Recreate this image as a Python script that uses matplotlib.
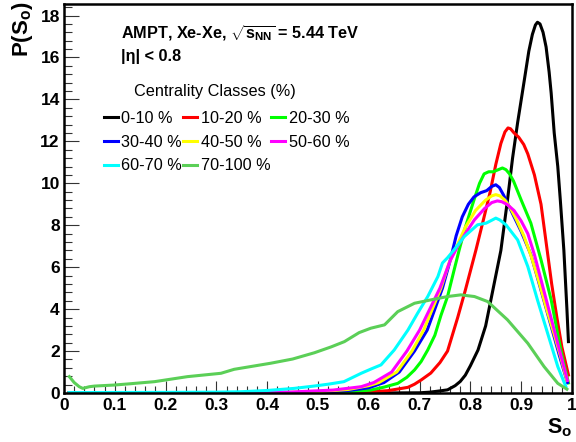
import matplotlib
matplotlib.use("Agg")
import matplotlib.pyplot as plt
from matplotlib.ticker import MultipleLocator, FormatStrFormatter

plt.rcParams['font.family'] = ['Liberation Sans', 'DejaVu Sans']
plt.rcParams['mathtext.fontset'] = 'custom'
plt.rcParams['mathtext.rm'] = 'Liberation Sans:bold'
plt.rcParams['mathtext.it'] = 'Liberation Sans:bold'
plt.rcParams['mathtext.bf'] = 'Liberation Sans:bold'
plt.rcParams['mathtext.sf'] = 'Liberation Sans:bold'

# ---------------- data ----------------
labels = ["0-10 %", "10-20 %", "20-30 %", "30-40 %", "40-50 %", "50-60 %", "60-70 %", "70-100 %"]
colors = ["#000000", "#ff0000", "#00ff00", "#0000ff", "#ffff00", "#ff00ff", "#00ffff", "#5bcf57"]

s_0_10 = [0.01, 0.60, 0.70, 0.72, 0.74, 0.755, 0.77, 0.78, 0.79, 0.80, 0.815, 0.83, 0.84, 0.85, 0.86, 0.873,
          0.883, 0.893, 0.906, 0.915, 0.922, 0.928, 0.932, 0.937, 0.943, 0.949, 0.955, 0.959, 0.965, 0.972,
          0.977, 0.984, 0.99, 0.993]
p_0_10 = [0.0, 0.0, 0.01, 0.04, 0.10, 0.15, 0.35, 0.55, 0.85, 1.3, 2.05, 3.2, 4.4, 5.6, 6.8, 9.2,
          11.2, 12.9, 14.9, 16.3, 17.1, 17.55, 17.68, 17.6, 17.2, 16.5, 15.3, 14.3, 12.4, 10.8,
          9.2, 6.8, 4.0, 2.45]

s_10_20 = [0.01, 0.55, 0.60, 0.637, 0.66, 0.677, 0.69, 0.703, 0.722, 0.74, 0.755, 0.775, 0.79, 0.811, 0.825,
           0.839, 0.85, 0.86, 0.868, 0.874, 0.879, 0.886, 0.895, 0.905, 0.913, 0.926, 0.939, 0.951, 0.96,
           0.97, 0.98, 0.993]
p_10_20 = [0.0, 0.0, 0.05, 0.11, 0.2, 0.27, 0.42, 0.62, 0.95, 1.45, 2.0, 3.6, 4.9, 6.83, 8.2,
           9.6, 10.9, 11.9, 12.45, 12.64, 12.6, 12.4, 12.2, 11.85, 11.4, 10.4, 9.0, 6.83, 5.2,
           3.64, 2.2, 0.86]

s_20_30 = [0.01, 0.45, 0.55, 0.604, 0.63, 0.657, 0.675, 0.69, 0.703, 0.716, 0.73, 0.742, 0.755, 0.768, 0.778,
           0.79, 0.807, 0.818, 0.827, 0.836, 0.845, 0.855, 0.863, 0.87, 0.877, 0.885, 0.90, 0.919, 0.939,
           0.959, 0.978, 0.993]
p_20_30 = [0.0, 0.0, 0.03, 0.14, 0.28, 0.46, 0.75, 1.1, 1.5, 2.05, 2.75, 3.7, 4.6, 5.87, 6.83,
           7.9, 9.2, 10.0, 10.45, 10.55, 10.55, 10.65, 10.73, 10.65, 10.45, 10.1, 9.2, 8.1, 6.35,
           4.44, 2.05, 0.48]

s_30_40 = [0.01, 0.45, 0.53, 0.56, 0.60, 0.63, 0.66, 0.69, 0.715, 0.73, 0.745, 0.76, 0.772, 0.784, 0.796,
           0.807, 0.82, 0.832, 0.842, 0.85, 0.857, 0.865, 0.875, 0.886, 0.90, 0.919, 0.932, 0.946, 0.96,
           0.975, 0.991]
p_30_40 = [0.0, 0.0, 0.06, 0.12, 0.25, 0.5, 1.0, 2.0, 3.0, 4.0, 5.0, 6.3, 7.5, 8.4, 9.0,
           9.35, 9.55, 9.65, 9.85, 9.93, 9.8, 9.45, 8.95, 8.4, 7.7, 6.6, 5.5, 4.3, 3.1,
           1.8, 0.5]

s_40_50 = [0.01, 0.40, 0.50, 0.56, 0.60, 0.62, 0.655, 0.685, 0.708, 0.725, 0.742, 0.758, 0.775, 0.79, 0.81,
           0.83, 0.842, 0.85, 0.858, 0.868, 0.878, 0.89, 0.905, 0.92, 0.935, 0.95, 0.965, 0.978, 0.99]
p_40_50 = [0.0, 0.01, 0.06, 0.17, 0.35, 0.5, 1.0, 2.0, 3.0, 4.0, 5.0, 6.2, 7.1, 7.9, 8.7,
           9.2, 9.4, 9.46, 9.4, 9.2, 8.85, 8.3, 7.5, 6.5, 5.3, 4.0, 2.8, 1.7, 0.6]

s_50_60 = [0.01, 0.35, 0.45, 0.53, 0.585, 0.61, 0.645, 0.675, 0.70, 0.72, 0.74, 0.76, 0.775, 0.79, 0.808,
           0.828, 0.842, 0.853, 0.862, 0.873, 0.886, 0.90, 0.913, 0.926, 0.939, 0.952, 0.965, 0.978, 0.991]
p_50_60 = [0.0, 0.01, 0.05, 0.14, 0.3, 0.5, 1.0, 2.0, 3.0, 4.0, 5.0, 6.3, 7.0, 7.6, 8.26,
           8.8, 9.08, 9.16, 9.12, 8.98, 8.7, 8.2, 7.6, 6.6, 5.4, 4.2, 3.0, 1.8, 0.6]

s_60_70 = [0.01, 0.20, 0.30, 0.348, 0.40, 0.453, 0.492, 0.52, 0.551, 0.585, 0.605, 0.624, 0.65, 0.677, 0.696,
           0.716, 0.736, 0.745, 0.755, 0.768, 0.788, 0.814, 0.831, 0.843, 0.85, 0.858, 0.87, 0.893, 0.913,
           0.932, 0.952, 0.972, 0.988]
p_60_70 = [0.02, 0.03, 0.04, 0.06, 0.12, 0.22, 0.33, 0.42, 0.54, 0.94, 1.15, 1.34, 2.05, 3.0, 3.8,
           4.6, 5.55, 6.2, 6.45, 6.83, 7.46, 8.02, 8.1, 8.25, 8.34, 8.25, 8.02, 7.3, 6.03,
           4.44, 2.85, 1.26, 0.3]

s_70_100 = [0.0105, 0.02, 0.03, 0.037, 0.05, 0.06, 0.099, 0.125, 0.178, 0.243, 0.309, 0.335, 0.407, 0.45, 0.493,
            0.526, 0.552, 0.581, 0.604, 0.631, 0.657, 0.69, 0.722, 0.755, 0.781, 0.808, 0.834, 0.873, 0.913, 0.945,
            0.972, 0.99]
p_70_100 = [0.78, 0.5, 0.3, 0.22, 0.3, 0.33, 0.38, 0.43, 0.54, 0.78, 0.94, 1.13, 1.42, 1.62, 1.92,
            2.2, 2.45, 2.88, 3.09, 3.25, 3.88, 4.28, 4.44, 4.6, 4.68, 4.6, 4.36, 3.49, 2.37, 1.26,
            0.46, 0.18]

series_s = [s_0_10, s_10_20, s_20_30, s_30_40, s_40_50, s_50_60, s_60_70, s_70_100]
series_p = [p_0_10, p_10_20, p_20_30, p_30_40, p_40_50, p_50_60, p_60_70, p_70_100]

x_ticks = [0, 0.1, 0.2, 0.3, 0.4, 0.5, 0.6, 0.7, 0.8, 0.9, 1]
y_ticks = [0, 2, 4, 6, 8, 10, 12, 14, 16, 18]

# ---------------- figure ----------------
fig = plt.figure(figsize=(5.76, 4.42), dpi=100)
ax = fig.add_axes([64 / 576, 49 / 442, 508 / 576, 389 / 442])

handles = []
for s, p, c, lab in zip(series_s, series_p, colors, labels):
    h, = ax.plot(s, p, color=c, lw=2.2, label=lab, solid_joinstyle='round')
    handles.append(h)
ax.set_xlim(0, 1)
ax.set_ylim(0, 18.55)

ax.set_xticks(x_ticks)
ax.set_yticks(y_ticks)
ax.xaxis.set_minor_locator(MultipleLocator(0.02))
ax.yaxis.set_minor_locator(MultipleLocator(0.4))
ax.xaxis.set_major_formatter(FormatStrFormatter('%g'))
ax.tick_params(axis='both', which='both', direction='in', top=False, right=False, width=0.8, color='#333333')
ax.tick_params(axis='x', which='major', length=8.4, pad=3.5)
ax.tick_params(axis='x', which='minor', length=4.8)
ax.tick_params(axis='y', which='major', length=11, pad=3)
ax.tick_params(axis='y', which='minor', length=5.5)
for lab in ax.get_xticklabels() + ax.get_yticklabels():
    lab.set_fontweight('bold')
    lab.set_fontsize(12.5)
for sp in ax.spines.values():
    sp.set_linewidth(1.8)

ax.text(-0.081, 1.006, r'P(S$_{o}$)', rotation=90, ha='center', va='top', fontsize=16,
        fontweight='bold', transform=ax.transAxes)
ax.text(1.0, -0.059, r'S$_{o}$', ha='right', va='top', fontsize=15.5, fontweight='bold',
        transform=ax.transAxes)

ax.text(0.1116, 0.9128, r'AMPT, Xe-Xe, $\sqrt{s_{NN}}$ = 5.44 TeV', fontsize=11.7, fontweight='bold',
        ha='left', va='baseline', transform=ax.transAxes)
ax.text(0.1116, 0.8535, '|η| < 0.8', fontsize=11.7, fontweight='bold', ha='left', va='baseline',
        transform=ax.transAxes)
ax.text(0.1384, 0.7638, 'Centrality Classes (%)', fontsize=11.7, ha='left', va='baseline',
        transform=ax.transAxes)

order = [0, 3, 6, 1, 4, 7, 2, 5]
ax.legend([handles[i] for i in order], [labels[i] for i in order], ncol=3, loc='upper left',
          bbox_to_anchor=(0.0787, 0.7245), frameon=False, fontsize=11.7, borderpad=0, borderaxespad=0,
          handlelength=0.86, handletextpad=0.21, columnspacing=0.07, labelspacing=0.53)

fig.savefig('out.png', dpi=100)
